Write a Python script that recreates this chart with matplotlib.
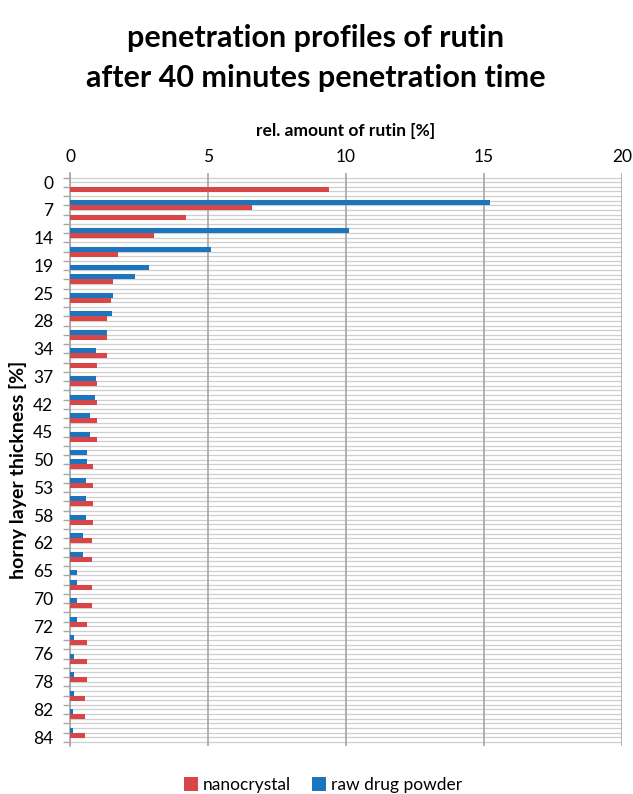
import numpy as np
from matplotlib import pyplot as plt

n = np.nan
# one entry per measured row (top to bottom); nan = no bar drawn
nanocrystal = [9.4, n, 6.6, 4.2, n, 3.05, n, 1.73, n, n,
               1.57, n, 1.49, n, 1.34, n, 1.34, n, 1.34, 0.98,
               n, 0.98, n, 0.98, n, 0.98, n, 0.98, n, n,
               0.82, n, 0.82, n, 0.82, n, 0.82, n, 0.78, n,
               0.78, n, n, 0.80, n, 0.80, n, 0.63, n, 0.63,
               n, 0.63, n, 0.63, n, 0.54, n, 0.54, n, 0.54]
raw_powder = [n, n, 15.2, n, n, 10.1, n, 5.12, n, 2.86,
              2.37, n, 1.54, n, 1.51, n, 1.34, n, 0.94, n,
              n, 0.94, n, 0.92, n, 0.72, n, 0.72, n, 0.63,
              0.63, n, 0.59, n, 0.59, n, 0.59, n, 0.47, n,
              0.47, n, 0.24, 0.24, n, 0.24, n, 0.24, n, 0.14,
              n, 0.14, n, 0.14, n, 0.14, n, 0.11, n, 0.11]
thickness_labels = ["0", "7", "14", "19", "25", "28", "34", "37", "42", "45", "50",
                    "53", "58", "62", "65", "70", "72", "76", "78", "82", "84"]
x_ticks = [0, 5, 10, 15, 20]

red = "#d94648"
blue = "#1d76bd"
grid_grey = "#a6a6a6"

if __name__ == "__main__":
    plt.rcParams["font.family"] = ["Lato", "DejaVu Sans"]
    fig = plt.figure(figsize=(6.33, 7.94), dpi=100)
    ax = fig.add_axes([70 / 633, 1 - 746.4 / 794, 552 / 633, 573.4 / 794])

    rows = np.arange(len(nanocrystal))
    h_blue = ax.barh(rows - 0.27, raw_powder, height=0.54, color=blue, zorder=3)
    h_red = ax.barh(rows + 0.27, nanocrystal, height=0.54, color=red, zorder=3)

    ax.set_xlim(0, 20)
    ax.set_ylim(len(rows) + 0.5, -1.5)

    # dense light horizontal lines behind the bars
    for yy in np.arange(-1.0, len(rows) + 0.5, 0.5):
        ax.axhline(yy, color="#cfcfcf", lw=0.9, zorder=1)

    ax.xaxis.tick_top()
    ax.xaxis.set_label_position("top")
    ax.set_xticks(x_ticks)
    ax.tick_params(axis="x", length=0, labelsize=12.5, pad=6)
    ax.grid(axis="x", color=grid_grey, lw=1.2, zorder=2)
    ax.set_xlabel("rel. amount of rutin [%]", fontsize=12.5, fontweight="bold", labelpad=9)

    ax.set_yticks(np.arange(len(thickness_labels)) * 3 - 0.5, thickness_labels)
    ax.set_yticks(np.arange(-1, len(rows) + 1), minor=True)
    ax.tick_params(axis="y", which="major", length=0, labelsize=12.5, pad=12)
    ax.tick_params(axis="y", which="minor", length=5, color=grid_grey, width=1)

    for side in ["top", "bottom", "right"]:
        ax.spines[side].set_visible(False)
    ax.spines["left"].set_color(grid_grey)
    ax.spines["left"].set_linewidth(1.2)

    fig.text(18 / 633, 1 - 470 / 794, "horny layer thickness [%]", rotation=90,
             ha="center", va="center", fontsize=14, fontweight="bold")

    fig.text(316 / 633, 1 - 38 / 794, "penetration profiles of rutin",
             ha="center", va="center", fontsize=22, fontweight="bold")
    fig.text(316 / 633, 1 - 78 / 794, "after 40 minutes penetration time",
             ha="center", va="center", fontsize=22, fontweight="bold")

    fig.legend([h_red, h_blue], ["nanocrystal", "raw drug powder"], loc="center",
               bbox_to_anchor=(0.51, 1 - 785 / 794), ncol=2, frameon=False, fontsize=12.5,
               handlelength=0.8, handleheight=0.8, handletextpad=0.3, columnspacing=1.2)

    plt.savefig("out.png", dpi=100)
    plt.close()
